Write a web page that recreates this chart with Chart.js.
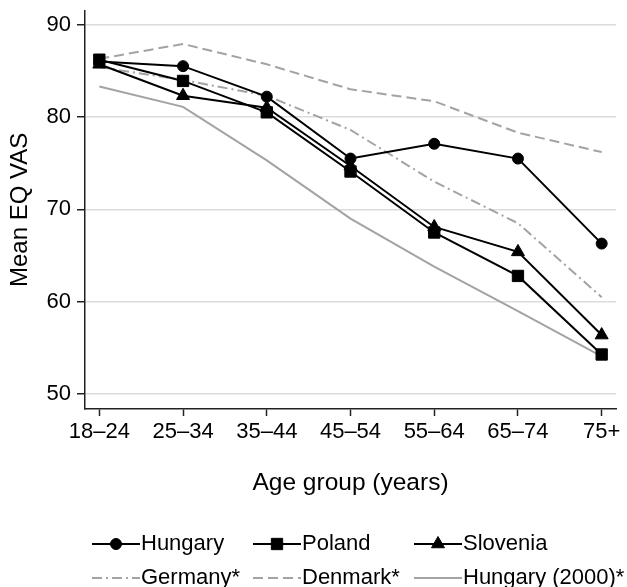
<!DOCTYPE html>
<html>
<head>
<meta charset="utf-8">
<script src="https://cdn.jsdelivr.net/npm/chart.js@4.4.0/dist/chart.umd.min.js"></script>
<style>
  html, body { margin: 0; padding: 0; background: #fff; }
</style>
</head>
<body>
<canvas id="eqvasChart" width="627" height="587"></canvas>
<script>
// age groups on the x axis
const ageGroups = ['18–24', '25–34', '35–44', '45–54', '55–64', '65–74', '75+'];

// mean EQ VAS per age group
const hungary     = [86.0, 85.5, 82.2, 75.5, 77.1, 75.5, 66.3];
const poland      = [86.2, 83.9, 80.5, 74.1, 67.5, 62.8, 54.3];
const slovenia    = [85.7, 82.3, 81.0, 74.7, 68.1, 65.4, 56.4];
const germany     = [85.4, 84.0, 82.3, 78.6, 73.0, 68.5, 60.5];
const denmark     = [86.3, 87.9, 85.7, 83.0, 81.7, 78.3, 76.2];
const hungary2000 = [83.3, 81.1, 75.3, 69.0, 63.8, 59.0, 54.1];

const yTicks = [50, 60, 70, 80, 90];

const FONT = "'Liberation Sans', Arial, Helvetica, sans-serif";
const GREY = '#a3a3a3';

function toPoints(values) {
    return values.map((v, i) => ({ x: i, y: v }));
}

function blackSeries(label, values, style, radius) {
    return {
        label: label,
        data: toPoints(values),
        borderColor: '#000',
        backgroundColor: '#000',
        borderWidth: 2,
        pointStyle: style,
        pointRadius: radius,
        pointBorderWidth: 1,
        pointBorderColor: '#000',
        pointBackgroundColor: '#000',
        tension: 0
    };
}

function greySeries(label, values, dash) {
    return {
        label: label,
        data: toPoints(values),
        borderColor: GREY,
        backgroundColor: GREY,
        borderWidth: 2,
        borderDash: dash,
        pointRadius: 0,
        tension: 0
    };
}

// Legend drawn as 3 columns x 2 rows, line sample + marker + text
const gridLegend = {
    id: 'gridLegend',
    afterDraw(chart) {
        const ctx = chart.ctx;
        const cols = [92, 253, 414];
        const rows = [544, 578];
        const lineLen = 48;
        chart.data.datasets.forEach((ds, i) => {
            const x0 = cols[i % 3];
            const y = rows[Math.floor(i / 3)];
            ctx.save();
            ctx.strokeStyle = ds.borderColor;
            ctx.lineWidth = ds.borderWidth;
            ctx.setLineDash(ds.borderDash || []);
            ctx.beginPath();
            ctx.moveTo(x0, y);
            ctx.lineTo(x0 + lineLen, y);
            ctx.stroke();
            ctx.setLineDash([]);
            if (ds.pointRadius > 0) {
                ctx.fillStyle = ds.pointBackgroundColor;
                ctx.strokeStyle = ds.pointBorderColor;
                ctx.lineWidth = ds.pointBorderWidth;
                Chart.helpers.drawPoint(ctx, {
                    pointStyle: ds.pointStyle,
                    radius: ds.pointRadius,
                    borderWidth: ds.pointBorderWidth,
                    rotation: 0
                }, x0 + lineLen / 2, y);
            }
            ctx.fillStyle = '#000';
            ctx.font = '22px ' + FONT;
            ctx.textAlign = 'left';
            ctx.textBaseline = 'middle';
            ctx.fillText(ds.label, x0 + lineLen + 1, y);
            ctx.restore();
        });
    }
};

const ctx = document.getElementById('eqvasChart').getContext('2d');
const eqvasChart = new Chart(ctx, {
    type: 'line',
    data: {
        datasets: [
            blackSeries('Hungary', hungary, 'circle', 5.5),
            blackSeries('Poland', poland, 'rect', 8),
            blackSeries('Slovenia', slovenia, 'triangle', 7.5),
            greySeries('Germany*', germany, [10, 4, 2, 4]),
            greySeries('Denmark*', denmark, [10, 5]),
            greySeries('Hungary (2000)*', hungary2000, [])
        ]
    },
    options: {
        responsive: false,
        animation: false,
        layout: {
            padding: { left: 0, right: 11, top: 10.7, bottom: 89.3 }
        },
        plugins: {
            legend: { display: false },
            tooltip: { enabled: false }
        },
        scales: {
            x: {
                type: 'linear',
                min: -0.171,
                max: 6.171,
                afterBuildTicks: axis => {
                    axis.ticks = ageGroups.map((_, i) => ({ value: i }));
                },
                afterFit: axis => {
                    axis.height = 88.7;
                    axis.paddingLeft = 0;
                    axis.paddingRight = 0;
                },
                grid: {
                    drawOnChartArea: false,
                    drawTicks: true,
                    tickLength: 7,
                    tickColor: '#222',
                    tickWidth: 1.5
                },
                border: { color: '#222', width: 1.5 },
                ticks: {
                    color: '#000',
                    padding: 3,
                    maxRotation: 0,
                    autoSkip: false,
                    font: { family: FONT, size: 22 },
                    callback: value => ageGroups[value]
                },
                title: {
                    display: true,
                    text: 'Age group (years)',
                    color: '#000',
                    padding: 0,
                    font: { family: FONT, size: 24.5 }
                }
            },
            y: {
                min: 48.4,
                max: 91.5,
                afterBuildTicks: axis => {
                    axis.ticks = yTicks.map(v => ({ value: v }));
                },
                afterFit: axis => {
                    axis.width = 85;
                    axis.paddingTop = 0;
                    axis.paddingBottom = 0;
                },
                grid: {
                    color: '#dcdcdc',
                    lineWidth: 1.5,
                    drawTicks: true,
                    tickLength: 8,
                    tickColor: '#222',
                    tickWidth: 1.5
                },
                border: { color: '#222', width: 1.5 },
                ticks: {
                    color: '#000',
                    padding: 6,
                    font: { family: FONT, size: 22 }
                },
                title: {
                    display: true,
                    text: 'Mean EQ VAS',
                    color: '#000',
                    padding: { top: 6, bottom: 0 },
                    font: { family: FONT, size: 24 }
                }
            }
        }
    },
    plugins: [gridLegend]
});
</script>
</body>
</html>
